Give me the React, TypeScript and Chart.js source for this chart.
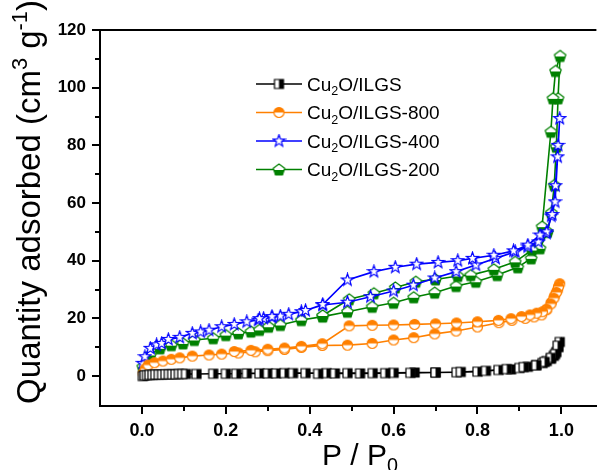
import { useEffect, useRef } from "react";
import { Chart, registerables } from "chart.js";

Chart.register(...registerables);

const FONT = '"Liberation Sans", Arial, "DejaVu Sans", sans-serif';

// ---------- data ----------
const seriesLabels = ["Cu2O/ILGS", "Cu2O/ILGS-800", "Cu2O/ILGS-400", "Cu2O/ILGS-200"];
const seriesColors = ["#000000", "#FF8000", "#0000FF", "#008000"];

const xTickValues = [0, 0.1, 0.2, 0.3, 0.4, 0.5, 0.6, 0.7, 0.8, 0.9, 1.0];
const yTickValues = [0, 10, 20, 30, 40, 50, 60, 70, 80, 90, 100, 110, 120];

const blackAdsP = [0.002, 0.006, 0.012, 0.018, 0.025, 0.032, 0.04, 0.048, 0.056, 0.064, 0.072, 0.08, 0.088, 0.096, 0.105, 0.13, 0.17, 0.2, 0.225, 0.25, 0.28, 0.3, 0.32, 0.34, 0.36, 0.39, 0.44, 0.49, 0.55, 0.6, 0.65, 0.7, 0.75, 0.8, 0.85, 0.88, 0.9, 0.92, 0.94, 0.955, 0.965, 0.975, 0.982, 0.988, 0.993, 0.996];
const blackAdsQ = [0.0, 0.2, 0.3, 0.4, 0.4, 0.5, 0.5, 0.5, 0.6, 0.6, 0.6, 0.6, 0.7, 0.7, 0.7, 0.7, 0.8, 0.8, 0.8, 0.9, 0.9, 0.9, 0.9, 1.0, 1.0, 1.0, 1.0, 1.0, 1.0, 1.1, 1.2, 1.2, 1.3, 1.5, 2.1, 2.3, 2.8, 3.2, 3.8, 4.5, 5.2, 6.0, 7.0, 8.3, 10.0, 11.8];
const blackDesP = [0.991, 0.985, 0.975, 0.96, 0.94, 0.91, 0.87, 0.82, 0.76, 0.7, 0.64, 0.58, 0.52, 0.46, 0.42];
const blackDesQ = [10.5, 7.6, 6.3, 4.9, 3.7, 3.1, 2.4, 1.8, 1.4, 1.2, 1.1, 1.0, 0.9, 0.9, 0.8];

const orangeAdsP = [0.003, 0.008, 0.015, 0.03, 0.05, 0.07, 0.09, 0.12, 0.16, 0.19, 0.23, 0.27, 0.3, 0.34, 0.38, 0.43, 0.49, 0.549, 0.6, 0.648, 0.698, 0.749, 0.8, 0.851, 0.882, 0.914, 0.935, 0.953, 0.965, 0.976, 0.984, 0.991, 0.996];
const orangeAdsQ = [1.0, 2.5, 3.8, 4.6, 5.2, 5.8, 6.3, 6.9, 7.3, 7.6, 8.0, 8.4, 8.8, 9.2, 9.9, 10.6, 10.7, 11.3, 12.5, 13.3, 14.6, 15.6, 17.0, 18.5, 19.3, 20.0, 20.5, 21.2, 23.0, 25.5, 27.8, 29.8, 32.0];
const orangeDesP = [0.993, 0.988, 0.982, 0.975, 0.965, 0.955, 0.941, 0.925, 0.905, 0.88, 0.85, 0.8, 0.75, 0.7, 0.65, 0.6, 0.549, 0.494, 0.43, 0.38, 0.34, 0.3, 0.26, 0.22];
const orangeDesQ = [31.0, 29.0, 27.0, 25.0, 23.2, 22.3, 21.8, 21.2, 20.6, 19.9, 19.3, 18.8, 18.4, 18.1, 17.9, 17.7, 17.6, 17.4, 11.2, 10.3, 9.7, 9.3, 8.9, 8.5];

const blueAdsP = [0.002, 0.007, 0.02, 0.035, 0.047, 0.063, 0.09, 0.12, 0.14, 0.16, 0.19, 0.22, 0.25, 0.277, 0.29, 0.31, 0.33, 0.38, 0.431, 0.49, 0.545, 0.6, 0.647, 0.698, 0.749, 0.796, 0.843, 0.89, 0.92, 0.945, 0.964, 0.976, 0.985, 0.991, 0.996];
const blueAdsQ = [4.4, 6.7, 9.6, 10.8, 11.3, 12.7, 13.4, 14.8, 15.3, 15.9, 17.1, 17.9, 18.8, 19.4, 20.0, 20.4, 20.8, 22.3, 24.6, 25.6, 27.5, 29.5, 31.5, 34.0, 36.2, 38.5, 40.8, 43.1, 44.8, 46.5, 49.5, 55.5, 60.4, 76.0, 89.3];
const blueDesP = [0.992, 0.986, 0.978, 0.965, 0.949, 0.92, 0.886, 0.839, 0.788, 0.753, 0.706, 0.655, 0.604, 0.553, 0.49, 0.431, 0.39, 0.35, 0.31, 0.28];
const blueDesQ = [80.0, 66.0, 56.0, 50.0, 48.9, 45.4, 43.4, 41.9, 40.8, 40.0, 39.4, 38.8, 37.7, 36.2, 33.3, 24.8, 22.7, 21.4, 20.6, 19.9];

const greenAdsP = [0.002, 0.02, 0.043, 0.07, 0.098, 0.125, 0.17, 0.2, 0.23, 0.26, 0.28, 0.302, 0.33, 0.38, 0.431, 0.49, 0.549, 0.6, 0.648, 0.698, 0.749, 0.796, 0.847, 0.896, 0.928, 0.949, 0.967, 0.976, 0.983, 0.988, 0.992, 0.997];
const greenAdsQ = [3.2, 7.3, 9.6, 10.7, 11.3, 12.5, 13.1, 14.2, 14.8, 15.4, 16.0, 17.1, 17.7, 19.4, 20.6, 22.3, 24.0, 25.4, 27.3, 28.9, 31.2, 32.7, 35.0, 37.7, 40.8, 44.3, 50.0, 56.6, 66.2, 79.5, 96.3, 111.0];
const greenDesP = [0.986, 0.98, 0.975, 0.954, 0.93, 0.89, 0.839, 0.784, 0.753, 0.7, 0.653, 0.604, 0.553, 0.494, 0.431];
const greenDesQ = [105.8, 96.3, 84.7, 51.8, 43.7, 39.6, 37.0, 35.0, 34.7, 33.5, 32.7, 30.7, 28.7, 26.6, 21.0];

// ---------- helpers ----------
type Part = { t: string; s?: "sub" | "sup" };

function splitCu2O(label: string): Part[] {
  return [{ t: "Cu" }, { t: "2", s: "sub" }, { t: label.slice(3) }];
}

function drawRich(ctx: CanvasRenderingContext2D, parts: Part[], x: number, y: number, size: number, measureOnly = false): number {
  let cx = x;
  for (const p of parts) {
    const fs = p.s ? size * 0.66 : size;
    ctx.font = `${fs}px ${FONT}`;
    const dy = p.s === "sub" ? size * 0.24 : p.s === "sup" ? -size * 0.4 : 0;
    if (!measureOnly) ctx.fillText(p.t, cx, y + dy);
    cx += ctx.measureText(p.t).width;
  }
  return cx - x;
}

function makeMarker(kind: string, color: string): HTMLCanvasElement {
  const c = document.createElement("canvas");
  const S = 15;
  c.width = S;
  c.height = S;
  const g = c.getContext("2d")!;
  const m = S / 2;
  g.lineWidth = 1.2;
  g.strokeStyle = color;
  g.fillStyle = color;
  const path = new Path2D();
  if (kind === "square") {
    path.rect(m - 4.5, m - 4.5, 9, 9);
  } else if (kind === "circle") {
    path.arc(m, m, 5, 0, Math.PI * 2);
  } else if (kind === "star") {
    for (let i = 0; i < 10; i++) {
      const r = i % 2 === 0 ? 6.3 : 2.6;
      const a = -Math.PI / 2 + (i * Math.PI) / 5;
      const px = m + r * Math.cos(a);
      const py = m + r * Math.sin(a);
      if (i === 0) path.moveTo(px, py);
      else path.lineTo(px, py);
    }
    path.closePath();
  } else {
    for (let i = 0; i < 5; i++) {
      const a = -Math.PI / 2 + (i * 2 * Math.PI) / 5;
      const px = m + 6 * Math.cos(a);
      const py = m + 0.6 + 6 * Math.sin(a);
      if (i === 0) path.moveTo(px, py);
      else path.lineTo(px, py);
    }
    path.closePath();
  }
  g.fillStyle = "#fff";
  g.fill(path);
  g.save();
  g.clip(path);
  g.fillStyle = color;
  if (kind === "square") g.fillRect(m, 0, S, S);
  else if (kind === "circle") g.fillRect(0, 0, S, m);
  else if (kind === "pentagon") g.fillRect(0, m + 0.5, S, S);
  g.restore();
  g.stroke(path);
  return c;
}

const markerKinds = ["square", "circle", "star", "pentagon"];

function loop(aP: number[], aQ: number[], dP: number[], dQ: number[]) {
  const pts: { x: number; y: number }[] = [];
  aP.forEach((p, i) => pts.push({ x: p, y: aQ[i] }));
  dP.forEach((p, i) => pts.push({ x: p, y: dQ[i] }));
  return pts;
}

export default function App() {
  const ref = useRef<HTMLCanvasElement>(null);

  useEffect(() => {
    const markers = seriesColors.map((c, i) => makeMarker(markerKinds[i], c));
    const dataSets = [
      loop(blackAdsP, blackAdsQ, blackDesP, blackDesQ),
      loop(orangeAdsP, orangeAdsQ, orangeDesP, orangeDesQ),
      loop(blueAdsP, blueAdsQ, blueDesP, blueDesQ),
      loop(greenAdsP, greenAdsQ, greenDesP, greenDesQ),
    ];

    const decor = {
      id: "decor",
      afterDraw(chart: any) {
        const ctx: CanvasRenderingContext2D = chart.ctx;
        const { left, right, top, bottom } = chart.chartArea;
        const xs = chart.scales.x;
        const ys = chart.scales.y;
        ctx.save();
        ctx.strokeStyle = "#000";
        ctx.lineWidth = 2;
        // top frame
        ctx.beginPath();
        ctx.moveTo(left - 1, top);
        ctx.lineTo(right, top);
        ctx.stroke();
        // ticks
        ctx.lineWidth = 2;
        xTickValues.forEach((v) => {
          const px = Math.round(xs.getPixelForValue(v));
          const major = Math.round(v * 10) % 2 === 0;
          ctx.beginPath();
          ctx.moveTo(px, bottom);
          ctx.lineTo(px, bottom + (major ? 8 : 5));
          ctx.stroke();
        });
        yTickValues.forEach((v) => {
          const py = Math.round(ys.getPixelForValue(v));
          const major = v % 20 === 0;
          ctx.beginPath();
          ctx.moveTo(left, py);
          ctx.lineTo(left - (major ? 8 : 5), py);
          ctx.stroke();
        });
        // legend
        const lx0 = 256, lx1 = 302, mx = 279, tx = 307, ly0 = 84, dy = 28.5;
        seriesLabels.forEach((lab, i) => {
          const y = ly0 + i * dy;
          ctx.strokeStyle = seriesColors[i];
          ctx.lineWidth = 1.6;
          ctx.beginPath();
          ctx.moveTo(lx0, y);
          ctx.lineTo(lx1, y);
          ctx.stroke();
          ctx.drawImage(markers[i], mx - 7.5, y - 7.5);
          ctx.fillStyle = "#000";
          ctx.textAlign = "left";
          ctx.textBaseline = "alphabetic";
          drawRich(ctx, splitCu2O(lab), tx, y + 6.8, 19);
        });
        // x title
        ctx.fillStyle = "#000";
        ctx.textBaseline = "alphabetic";
        const xt: Part[] = [{ t: "P / P" }, { t: "0", s: "sub" }];
        const xw = drawRich(ctx, xt, 0, 0, 30, true);
        drawRich(ctx, xt, 360 - xw / 2, 465, 30);
        // y title
        const yt: Part[] = [{ t: "Quantity adsorbed (cm" }, { t: "3", s: "sup" }, { t: " g" }, { t: "-1", s: "sup" }, { t: ")" }];
        const yw = drawRich(ctx, yt, 0, 0, 33, true);
        ctx.translate(40, 202);
        ctx.rotate(-Math.PI / 2);
        drawRich(ctx, yt, -yw / 2, 0, 33);
        ctx.restore();
      },
    };

    const chart = new Chart(ref.current!, {
      type: "line",
      data: {
        datasets: dataSets.map((d, i) => ({
          label: seriesLabels[i],
          data: d,
          borderColor: seriesColors[i],
          backgroundColor: seriesColors[i],
          borderWidth: 1.6,
          pointStyle: markers[i] as any,
          pointRadius: 5,
          tension: 0,
          fill: false,
          showLine: true,
        })),
      },
      options: {
        animation: false,
        responsive: false,
        devicePixelRatio: 1,
        layout: { padding: { top: 30, right: 0, left: 0, bottom: 0 } },
        plugins: { legend: { display: false }, tooltip: { enabled: false } },
        scales: {
          x: {
            type: "linear",
            min: -0.1,
            max: 1.0835,
            grid: { display: false, drawTicks: false },
            border: { display: true, color: "#000", width: 2 },
            afterBuildTicks: (s: any) => {
              s.ticks = xTickValues.map((v) => ({ value: v }));
            },
            afterFit: (s: any) => {
              s.height = 64;
            },
            ticks: {
              autoSkip: false,
              maxRotation: 0,
              padding: 14,
              color: "#000",
              font: { family: FONT, size: 18, weight: "bold" },
              callback: (v: any) => (Math.round(Number(v) * 10) % 2 === 0 ? Number(v).toFixed(1) : ""),
            },
          },
          y: {
            type: "linear",
            min: -10.4,
            max: 120,
            grid: { display: false, drawTicks: false },
            border: { display: true, color: "#000", width: 2 },
            afterBuildTicks: (s: any) => {
              s.ticks = yTickValues.map((v) => ({ value: v }));
            },
            afterFit: (s: any) => {
              s.width = 100;
            },
            ticks: {
              autoSkip: false,
              padding: 14,
              color: "#000",
              font: { family: FONT, size: 17, weight: "bold" },
              callback: (v: any) => (Number(v) % 20 === 0 ? String(v) : ""),
            },
          },
        },
      },
      plugins: [decor],
    } as any);
    return () => chart.destroy();
  }, []);

  return (
    <div style={{ position: "fixed", left: 0, top: 0, width: 603, height: 470, background: "#fff", overflow: "hidden" }}>
      <canvas ref={ref} width={603} height={470} style={{ display: "block", width: 603, height: 470 }} />
    </div>
  );
}
